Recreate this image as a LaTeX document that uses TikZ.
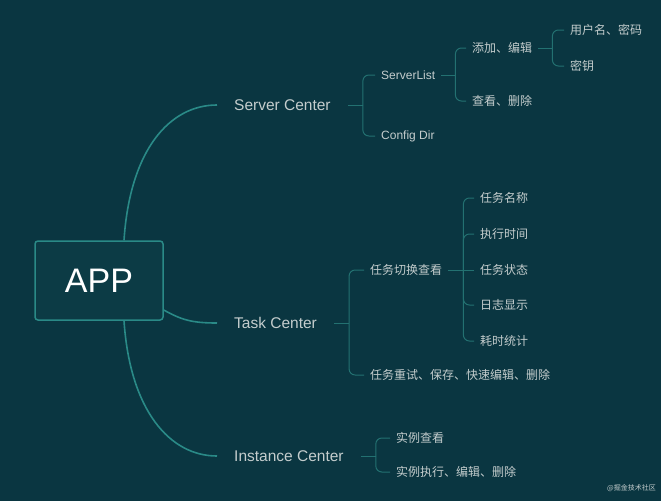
\documentclass[tikz,border=0pt]{standalone}
\usepackage{fontspec}
\setmainfont{Liberation Sans}
\newfontfamily\cjk{Noto Sans CJK SC}
\usetikzlibrary{calc}
\definecolor{bg}{HTML}{0A3641}
\definecolor{boxfill}{HTML}{0C3B45}
\definecolor{mainline}{HTML}{2A8A87}
\definecolor{subline}{HTML}{237171}
\definecolor{txt}{HTML}{C4CDCD}
\tikzset{
  maintext/.style={font=\fontsize{15.5}{18}\selectfont, text=txt, inner xsep=17, inner ysep=2, anchor=west},
  subtext/.style={font=\fontsize{12}{14}\selectfont, text=txt, inner xsep=6, inner ysep=2, anchor=west},
  mainconn/.style={draw=mainline, line width=1.6},
  subconn/.style={draw=subline, line width=1, rounded corners=6},
}
\begin{document}
\begin{tikzpicture}[x=1pt,y=-1pt]
\fill[bg] (0,0) rectangle (661,501);
\useasboundingbox (0,0) rectangle (661,501);

% root
\node[draw=mainline, line width=1.5, fill=boxfill, rounded corners=3,
      minimum width=128, minimum height=79,
      font=\fontsize{34}{40}\selectfont, text=white] (app) at (99,280.5) {APP};

% main nodes
\node[maintext] (sc) at (217,105) {Server Center};
\node[maintext] (tc) at (217,323) {Task Center};
\node[maintext] (ic) at (217,456) {Instance Center};

\draw[mainconn] ([xshift=25]app.north) .. controls +(6,-91) and +(-47,0) .. (sc.west);
\draw[mainconn] ([yshift=-29.5]app.east) .. controls +(18,10) and +(-25,0) .. (tc.west);
\draw[mainconn] ([xshift=25]app.south) .. controls +(6,90) and +(-47,0) .. (ic.west);

% Server Center branch
\node[subtext] (sl) at (375,75) {ServerList};
\node[subtext] (cd) at (375,136) {Config Dir};
\coordinate (jsc) at ($(sc.east)+(15,0)$);
\draw[subconn] (sc.east) -- (jsc);
\draw[subconn] (jsc) |- (sl.west);
\draw[subconn] (jsc) |- (cd.west);

\node[subtext] (add) at (466,48) {\cjk 添加、编辑};
\node[subtext] (view) at (466,101) {\cjk 查看、删除};
\coordinate (jsl) at ($(sl.east)+(14,0)$);
\draw[subconn] (sl.east) -- (jsl);
\draw[subconn] (jsl) |- (add.west);
\draw[subconn] (jsl) |- (view.west);

\node[subtext] (user) at (564,30) {\cjk 用户名、密码};
\node[subtext] (key) at (564,66) {\cjk 密钥};
\coordinate (jadd) at ($(add.east)+(14,0)$);
\draw[subconn] (add.east) -- (jadd);
\draw[subconn] (jadd) |- (user.west);
\draw[subconn] (jadd) |- (key.west);

% Task Center branch
\node[subtext] (switch) at (364,270) {\cjk 任务切换查看};
\node[subtext] (retry) at (364,375) {\cjk 任务重试、保存、快速编辑、删除};
\coordinate (jtc) at ($(tc.east)+(15,0)$);
\draw[subconn] (tc.east) -- (jtc);
\draw[subconn] (jtc) |- (switch.west);
\draw[subconn] (jtc) |- (retry.west);

\node[subtext] (t1) at (474,198) {\cjk 任务名称};
\node[subtext] (t2) at (474,234) {\cjk 执行时间};
\node[subtext] (t3) at (474,270) {\cjk 任务状态};
\node[subtext] (t4) at (474,305) {\cjk 日志显示};
\node[subtext] (t5) at (474,341) {\cjk 耗时统计};
\coordinate (jsw) at ($(switch.east)+(15,0)$);
\draw[subconn] (switch.east) -- (jsw);
\draw[subconn] (jsw) |- (t1.west);
\draw[subconn] (jsw) |- (t2.west);
\draw[subconn] (jsw) -- (t3.west);
\draw[subconn] (jsw) |- (t4.west);
\draw[subconn] (jsw) |- (t5.west);

% Instance Center branch
\node[subtext] (iv) at (390,438) {\cjk 实例查看};
\node[subtext] (ie) at (390,472) {\cjk 实例执行、编辑、删除};
\coordinate (jic) at ($(ic.east)+(15,0)$);
\draw[subconn] (ic.east) -- (jic);
\draw[subconn] (jic) |- (iv.west);
\draw[subconn] (jic) |- (ie.west);

% watermark
\node[font=\cjk\fontsize{7}{8}\selectfont, text=txt, anchor=east, inner sep=0] (wm) at (656,488) {@掘金技术社区};
\end{tikzpicture}
\end{document}
